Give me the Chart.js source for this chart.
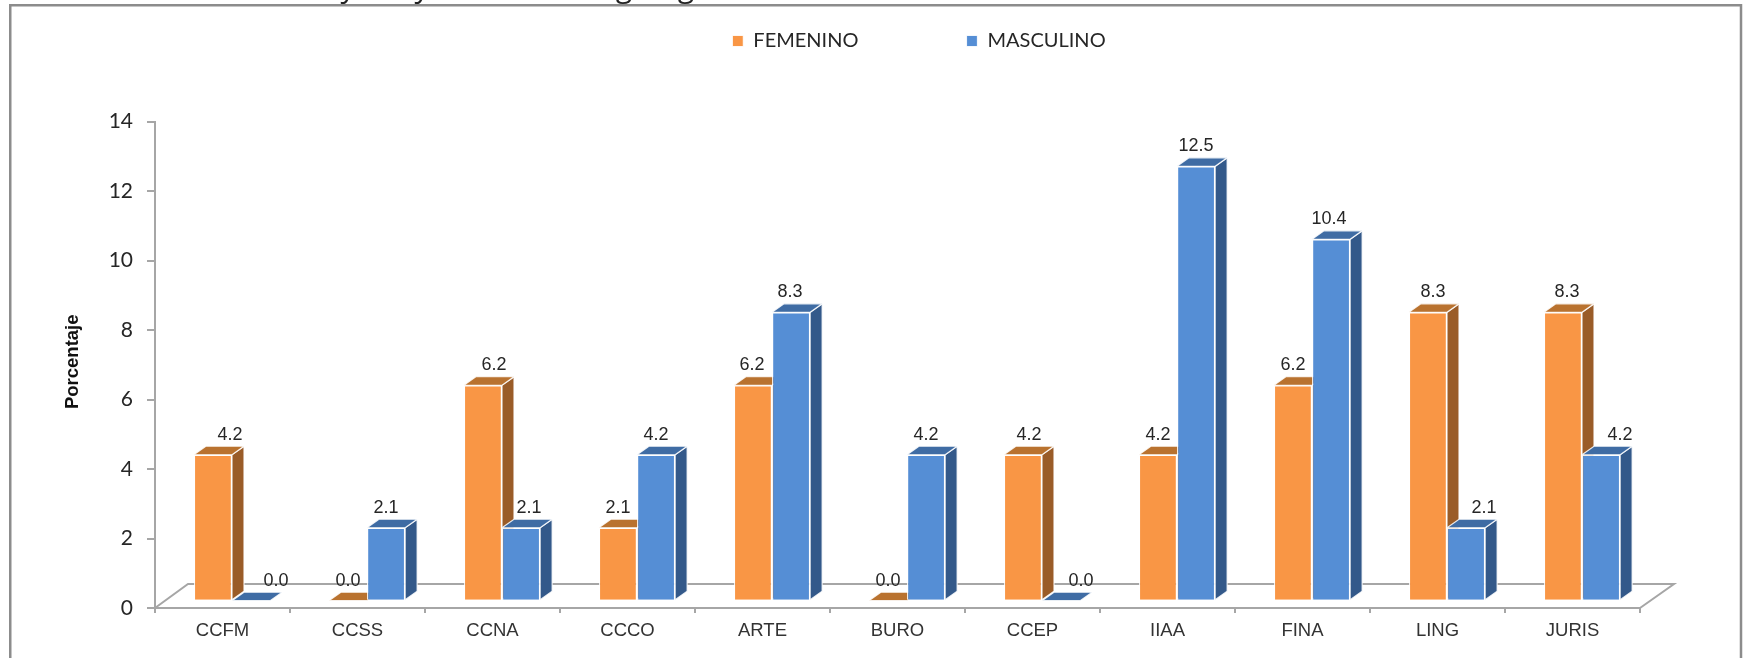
<!DOCTYPE html>
<html>
<head>
<meta charset="utf-8">
<script src="https://cdn.jsdelivr.net/npm/chart.js@4"></script>
<style>html,body{margin:0;padding:0;background:#fff;overflow:hidden}canvas{display:block}</style>
</head>
<body>
<canvas id="c" width="1746" height="658"></canvas>
<script>
const categories = ['CCFM','CCSS','CCNA','CCCO','ARTE','BURO','CCEP','IIAA','FINA','LING','JURIS'];
const femenino  = [4.2, 0.0, 6.2, 2.1, 6.2, 0.0, 4.2, 4.2, 6.2, 8.3, 8.3];
const masculino = [0.0, 2.1, 2.1, 4.2, 8.3, 4.2, 0.0, 12.5, 10.4, 2.1, 4.2];
const yTicks = [0, 2, 4, 6, 8, 10, 12, 14];
const titleTail = ['y', 'y', 'g', 'g'];

// Layout and styling
const labelShift = [
  [17, 0, 11, 0, -1, 0, 6, 0, 0, 5, 4],
  [25, 0, 8, 0, -1, 0, 20, 0, -2, 18, 19]
];
const titleTailX = [348, 422, 624, 686];
const lift = {x: 9.5, y: -7.3};
const depth = {x: 12, y: -8.5};
const faces = [
  {top: '#B9722F', side: '#9A5C28'},
  {top: '#3F6CA4', side: '#33598A'}
];
const axisGray = '#A6A6A6';
const edge = 'rgba(255,255,255,0.85)';
const legendGap = 108;

function poly(ctx, pts, fill) {
  ctx.beginPath();
  pts.forEach((p, i) => i ? ctx.lineTo(p[0], p[1]) : ctx.moveTo(p[0], p[1]));
  ctx.closePath();
  ctx.fillStyle = fill;
  ctx.fill();
  ctx.strokeStyle = edge;
  ctx.lineWidth = 1.2;
  ctx.stroke();
}

const pseudo3d = {
  id: 'pseudo3d',
  beforeLayout(chart) {
    const l = chart.legend;
    if (l && !l.$fixed) {
      l.$fixed = true;
      const fit = l.fit.bind(l), draw = l.draw.bind(l);
      l.fit = () => { fit(); l.height = 0; };
      l.draw = () => {
        const ctx = chart.ctx, t = l.top, b = l.bottom;
        l.top = 41 - legendGap - 10;
        l.bottom = 200;
        ctx.save();
        ctx.translate(69, 0);
        draw();
        ctx.restore();
        l.top = t;
        l.bottom = b;
      };
    }
  },
  beforeDraw(chart) {
    const ctx = chart.ctx;
    ctx.save();
    ctx.fillStyle = '#fff';
    ctx.fillRect(0, 0, chart.width, chart.height);
    ctx.fillStyle = '#222';
    ctx.font = '30px "Open Sans"';
    ctx.textAlign = 'center';
    ctx.textBaseline = 'alphabetic';
    titleTail.forEach((t, i) => ctx.fillText(t, titleTailX[i], -3));
    ctx.strokeStyle = '#8C8C8C';
    ctx.lineWidth = 2.5;
    ctx.beginPath();
    ctx.moveTo(10.25, chart.height);
    ctx.lineTo(10.25, 5.25);
    ctx.lineTo(1741, 5.25);
    ctx.lineTo(1741, chart.height);
    ctx.stroke();
    ctx.restore();
  },
  beforeDatasetsDraw(chart) {
    const ctx = chart.ctx, a = chart.chartArea;
    ctx.save();
    ctx.strokeStyle = axisGray;
    ctx.lineWidth = 2;
    ctx.beginPath();
    ctx.moveTo(a.left, a.bottom);
    ctx.lineTo(a.left + 33, a.bottom - 24);
    ctx.lineTo(a.right + 34, a.bottom - 24);
    ctx.lineTo(a.right, a.bottom);
    ctx.stroke();
    ctx.translate(lift.x, lift.y);
    chart.data.datasets.forEach((ds, d) => {
      const f = faces[d];
      chart.getDatasetMeta(d).data.forEach(el => {
        const L = el.x - el.width / 2, R = el.x + el.width / 2, T = el.y, B = el.base;
        if (B - T > 0.5) {
          poly(ctx, [[R, T], [R + depth.x, T + depth.y], [R + depth.x, B + depth.y], [R, B]], f.side);
        }
        poly(ctx, [[L, T], [L + depth.x, T + depth.y], [R + depth.x, T + depth.y], [R, T]], f.top);
      });
    });
    ctx.restore();
  },
  beforeDatasetDraw(chart) {
    chart.ctx.save();
    chart.ctx.translate(lift.x, lift.y);
  },
  afterDatasetDraw(chart) {
    chart.ctx.restore();
  },
  afterDatasetsDraw(chart) {
    const ctx = chart.ctx;
    ctx.save();
    ctx.fillStyle = '#262626';
    ctx.font = '18px "Liberation Sans"';
    ctx.textAlign = 'center';
    ctx.textBaseline = 'middle';
    chart.data.datasets.forEach((ds, d) => {
      chart.getDatasetMeta(d).data.forEach((el, i) => {
        ctx.fillText(ds.data[i].toFixed(1), el.x + lift.x + labelShift[d][i], el.y + lift.y - 20);
      });
    });
    ctx.restore();
  }
};

new Chart(document.getElementById('c'), {
  type: 'bar',
  data: {
    labels: categories,
    datasets: [
      {label: 'FEMENINO', data: femenino, backgroundColor: '#F99645', borderColor: edge, borderWidth: 1.2, clip: false},
      {label: 'MASCULINO', data: masculino, backgroundColor: '#558ED5', borderColor: edge, borderWidth: 1.2, clip: false}
    ]
  },
  options: {
    responsive: false,
    animation: false,
    devicePixelRatio: 1,
    layout: {padding: {left: 60, right: 106, top: 121.5, bottom: 0}},
    datasets: {bar: {categoryPercentage: 0.565, barPercentage: 1}},
    plugins: {
      tooltip: {enabled: false},
      legend: {
        position: 'top',
        labels: {
          boxWidth: 11, boxHeight: 11, padding: legendGap,
          color: '#262626',
          font: {family: 'Lato', size: 20}
        }
      }
    },
    scales: {
      x: {
        grid: {offset: true, drawOnChartArea: false, color: axisGray, lineWidth: 2, tickLength: 5},
        border: {color: axisGray, width: 2},
        ticks: {color: '#333', font: {family: '"Liberation Sans"', size: 18.5}, padding: 7, maxRotation: 0, autoSkip: false},
        afterFit(s) { s.height = 50; }
      },
      y: {
        min: yTicks[0],
        max: yTicks[yTicks.length - 1],
        afterBuildTicks(s) { s.ticks = yTicks.map(v => ({value: v})); },
        grid: {drawOnChartArea: false, color: axisGray, lineWidth: 2, tickLength: 8},
        border: {color: axisGray, width: 2},
        ticks: {color: '#262626', font: {family: 'Lato', size: 21}, padding: 14},
        title: {display: true, text: 'Porcentaje', color: '#111', font: {family: '"Liberation Sans"', size: 18.5, weight: 'bold'}, padding: {top: 2, bottom: 0}},
        afterFit(s) {
          s.width = 95;
          if (!s.$titleUp) {
            s.$titleUp = true;
            const d = s.drawTitle.bind(s);
            s.drawTitle = () => {
              s.ctx.save();
              s.ctx.translate(0, -3);
              d();
              s.ctx.restore();
            };
          }
        }
      }
    }
  },
  plugins: [pseudo3d]
});
</script>
</body>
</html>
